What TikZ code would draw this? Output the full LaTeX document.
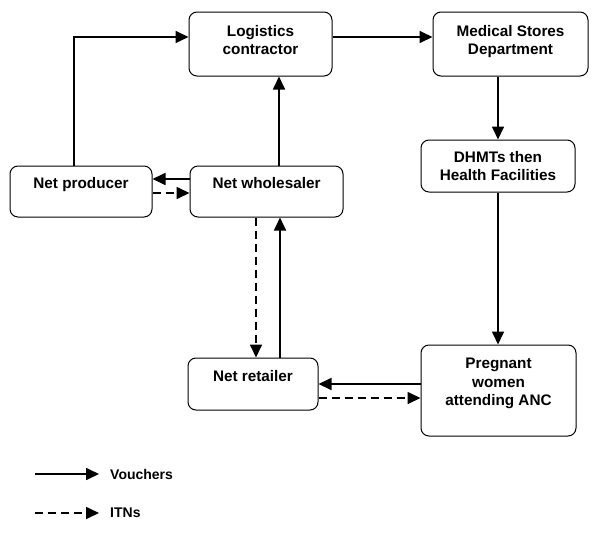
\documentclass[tikz,border=0pt]{standalone}
\usepackage{fontspec}
\setmainfont{Liberation Sans}
\usepackage{tikz}
\usetikzlibrary{calc,arrows.meta}

\begin{document}
\begin{tikzpicture}[x=1pt, y=-1pt, box/.style={draw, line width=1pt, rounded corners=8pt, align=center, inner sep=0pt, font=\bfseries\fontsize{15.3}{18.5}\selectfont}, low/.style={text height=11pt, text depth=17pt}, flow/.style={line width=1.7pt, -{Triangle[length=13pt,width=12pt]}}, itn/.style={flow, dash pattern=on 8pt off 5pt}, key/.style={anchor=west, inner sep=0pt, font=\bfseries\fontsize{14}{16}\selectfont}]
            \useasboundingbox (0,0) rectangle (600,541);
            \node[box, minimum width=143pt, minimum height=64pt, text depth=8pt] (logi) at (260.5,44) {Logistics\\contractor};
            \node[box, minimum width=155pt, minimum height=64pt, text depth=8pt] (msd) at (510.5,44) {Medical Stores\\Department};
            \node[box, minimum width=154pt, minimum height=52pt] (dhmt) at (498,166) {DHMTs then\\Health Facilities};
            \node[box, low, minimum width=142pt, minimum height=51pt] (prod) at (81,191.5) {Net producer};
            \node[box, low, minimum width=153pt, minimum height=51pt] (whole) at (266.5,191.5) {Net wholesaler};
            \node[box, low, minimum width=130pt, minimum height=52pt] (ret) at (253,384) {Net retailer};
            \node[box, minimum width=155pt, minimum height=91pt, text depth=17pt] (preg) at (498.5,390.5) {Pregnant\\women\\attending ANC};
            \draw[flow] ([xshift=-7pt]prod.north) |- ([yshift=7pt]logi.west);
            \draw[flow] ([yshift=7pt]logi.east) -- ([yshift=7pt]msd.west);
            \draw[flow] ([xshift=12.5pt]whole.north) -- ([xshift=12.5pt]whole.north |- logi.south);
            \draw[flow] (msd.south -| dhmt.north) -- (dhmt.north);
            \draw[flow] (dhmt.south) -- (dhmt.south |- preg.north);
            \draw[flow] ([yshift=12.5pt]whole.west) -- ([yshift=12.5pt]prod.east);
            \draw[itn] ([yshift=-1.5pt]prod.east) -- ([yshift=-1.5pt]whole.west);
            \draw[itn] ([xshift=-10.5pt]whole.south) -- ([xshift=-10.5pt]whole.south |- ret.north);
            \draw[flow] ([xshift=27pt]ret.north) -- ([xshift=27pt]ret.north |- whole.south);
            \draw[flow] (preg.west |- ret.east) -- (ret.east);
            \draw[itn] ([yshift=-14pt]ret.east) -- ([yshift=-14pt]ret.east -| preg.west);
            \node[key] (vouch) at (110,474) {Vouchers};
            \node[key] (itns) at (110,513) {ITNs};
            \coordinate (v0) at (35,474);
            \coordinate (i0) at (35,513);
            \draw[flow] (v0) -- ([xshift=-11pt]vouch.west);
            \draw[itn] (i0) -- ([xshift=-11pt]itns.west);
        \end{tikzpicture}
\end{document}
